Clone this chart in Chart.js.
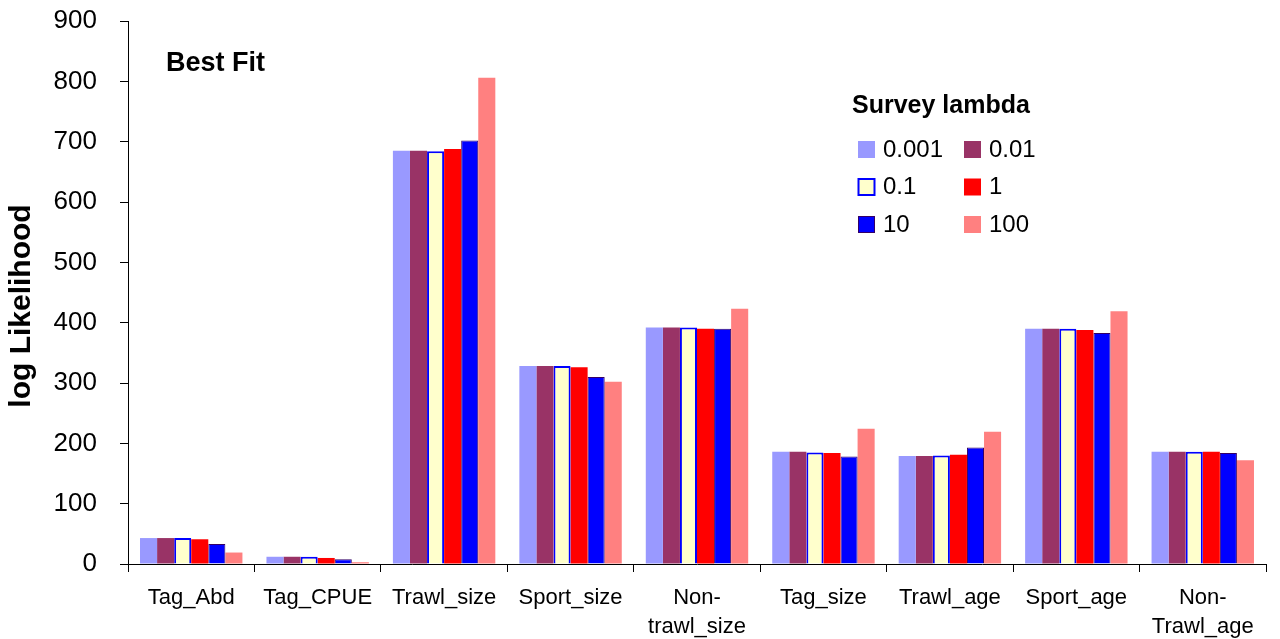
<!DOCTYPE html>
<html>
<head>
<meta charset="utf-8">
<script src="https://cdn.jsdelivr.net/npm/chart.js@4.4.1/dist/chart.umd.min.js"></script>
<style>
  html, body { margin: 0; padding: 0; background: #fff; }
  #wrap { width: 1280px; height: 639px; position: relative; }
</style>
</head>
<body>
<div id="wrap"><canvas id="llChart"></canvas></div>
<script>
// categories (multi-line labels as arrays)
const categories = ['Tag_Abd', 'Tag_CPUE', 'Trawl_size', 'Sport_size', ['Non-', 'trawl_size'],
                    'Tag_size', 'Trawl_age', 'Sport_age', ['Non-', 'Trawl_age']];

const lambdaLabels = ['0.001', '0.01', '0.1', '1', '10', '100'];

// log likelihood per survey lambda
const lam0001 = [43, 12, 685, 328, 392, 186, 179, 390, 186];
const lam001  = [43, 12, 685, 328, 392, 186, 179, 390, 186];
const lam01   = [43, 12, 684, 328, 392, 185, 180, 390, 186];
const lam1    = [41, 10, 688, 326, 390, 184, 181, 388, 186];
const lam10   = [33,  8, 702, 310, 390, 178, 193, 383, 184];
const lam100  = [19,  3, 806, 302, 423, 224, 219, 419, 172];

const yTicks = { min: 0, max: 900, step: 100 };

const seriesValues = [lam0001, lam001, lam01, lam1, lam10, lam100];
const fills   = ['#9999ff', '#993366', '#ffffcc', '#ff0000', '#0000ff', '#ff8080'];
const borders = ['#9999ff', '#993366', '#0000ff', '#ff0000', '#330066', '#ff8080'];
const bw      = [0, 0, 2, 0, 1, 0];

const datasets = seriesValues.map((vals, i) => ({
    label: lambdaLabels[i],
    data: vals,
    backgroundColor: fills[i],
    borderColor: borders[i],
    borderWidth: bw[i],
    borderSkipped: 'bottom',
    categoryPercentage: 0.81,
    barPercentage: 1.0,
}));

const FONT = '"Liberation Sans", Arial, sans-serif';

// legend, "Best Fit" note and y title
const insideText = {
    id: 'insideText',
    afterDraw(chart) {
        const c = chart.ctx;
        c.save();
        c.fillStyle = '#000';
        c.textBaseline = 'middle';
        c.font = 'bold 27px ' + FONT;
        c.fillText('Best Fit', 166, 64);
        c.font = 'bold 25px ' + FONT;
        c.fillText('Survey lambda', 852, 106);
        c.font = '24px ' + FONT;
        chart.data.datasets.forEach((ds, i) => {
            const col = i % 2, row = Math.floor(i / 2);
            const x = col === 0 ? 858 : 964;
            const y = 141 + row * 37.5;
            c.fillStyle = ds.backgroundColor;
            c.fillRect(x, y, 17, 17);
            if (ds.borderWidth) {
                c.strokeStyle = ds.borderColor;
                c.lineWidth = ds.borderWidth;
                c.strokeRect(x + 0.5, y + 0.5, 16, 16);
            }
            c.fillStyle = '#000';
            c.fillText(ds.label, x + 25, y + 9);
        });
        // y axis title
        c.translate(22, 306);
        c.rotate(-Math.PI / 2);
        c.textAlign = 'center';
        c.font = 'bold 30px ' + FONT;
        c.fillText('log Likelihood', 0, 0);
        c.restore();
    }
};

new Chart(document.getElementById('llChart'), {
    type: 'bar',
    data: { labels: categories, datasets: datasets },
    options: {
        responsive: true,
        maintainAspectRatio: false,
        animation: false,
        layout: { padding: { left: 0, top: 21, right: 14, bottom: 0 } },
        plugins: { legend: { display: false }, tooltip: { enabled: false } },
        scales: {
            x: {
                offset: true,
                grid: { display: true, drawOnChartArea: false, offset: true, color: '#000', tickLength: 8 },
                border: { color: '#000', width: 1 },
                ticks: {
                    color: '#000', padding: 11, maxRotation: 0, autoSkip: false,
                    font: { family: FONT, size: 22, lineHeight: 1.32 }
                },
                afterFit: s => { s.height = 75; s.paddingLeft = 0; s.paddingRight = 0; }
            },
            y: {
                min: yTicks.min, max: yTicks.max,
                grid: { display: true, drawOnChartArea: false, color: '#000', tickLength: 8 },
                border: { color: '#000', width: 1 },
                ticks: {
                    stepSize: yTicks.step, color: '#000', padding: 23,
                    font: { family: FONT, size: 26 }
                },
                afterFit: s => { s.width = 128; s.paddingTop = 0; s.paddingBottom = 0; }
            }
        }
    },
    plugins: [insideText]
});
</script>
</body>
</html>
